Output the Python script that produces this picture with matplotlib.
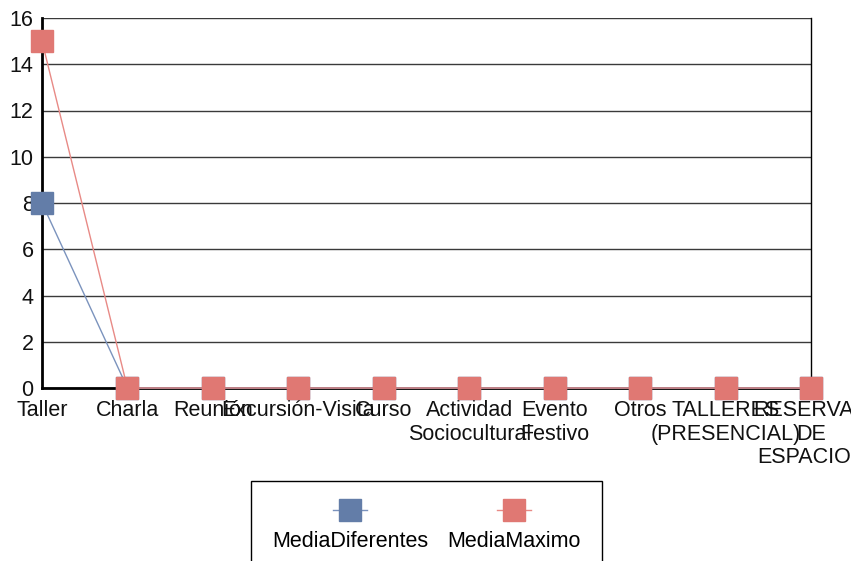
import matplotlib
matplotlib.use("Agg")
import matplotlib.pyplot as plt
from matplotlib.offsetbox import VPacker

plt.rcParams["font.family"] = ["Liberation Sans", "DejaVu Sans"]

categories = [
    "Taller", "Charla", "Reunión", "Excursión-Visita", "Curso",
    "Actividad\nSociocultural", "Evento\nFestivo", "Otros",
    "TALLERES\n(PRESENCIAL)", "RESERVAS\nDE\nESPACIOS",
]
media_diferentes = [8, 0, 0, 0, 0, 0, 0, 0, 0, 0]
media_maximo = [15, 0, 0, 0, 0, 0, 0, 0, 0, 0]
y_ticks = [0, 2, 4, 6, 8, 10, 12, 14, 16]

blue = "#637da8"
red = "#e07873"

fig = plt.figure(figsize=(8.51, 5.61), dpi=100)
ax = fig.add_axes([42 / 851, 1 - 388 / 561, 769 / 851, 370 / 561])

x = range(len(categories))
ax.plot(x, media_diferentes, color="#7b93bd", lw=1, marker="s", ms=16.5,
        mfc=blue, mec=blue, label="MediaDiferentes", clip_on=False, zorder=5)
ax.plot(x, media_maximo, color="#e88a86", lw=1, marker="s", ms=16.5,
        mfc=red, mec=red, label="MediaMaximo", clip_on=False, zorder=6)

ax.set_xlim(0, len(categories) - 1)
ax.set_ylim(0, 16)
ax.set_yticks(y_ticks)
ax.set_xticks(list(x))
ax.set_xticklabels(categories, linespacing=1.15)
ax.tick_params(length=0, labelsize=15.5, colors="#111111")
ax.tick_params(axis="y", pad=6)
ax.tick_params(axis="x", pad=9)

ax.grid(axis="y", color="#3a3a3a", lw=1)
ax.set_axisbelow(True)
ax.spines["top"].set_visible(False)
ax.spines["left"].set_linewidth(2)
ax.spines["bottom"].set_linewidth(2)
ax.spines["right"].set_linewidth(1)

leg = fig.legend(loc="upper center", bbox_to_anchor=(426.5 / 851, 1 - 481 / 561),
                 ncol=2, fontsize=15.5, frameon=True, fancybox=False,
                 edgecolor="black", borderpad=1.0, borderaxespad=0,
                 columnspacing=0.9, handlelength=1.6, framealpha=1)
leg.get_frame().set_linewidth(1)
# put each handle above its label
for col in leg._legend_handle_box.get_children():
    col._children = [VPacker(pad=0, sep=10, align="center", children=item.get_children())
                     for item in col.get_children()]

fig.savefig("out.png", dpi=100)
